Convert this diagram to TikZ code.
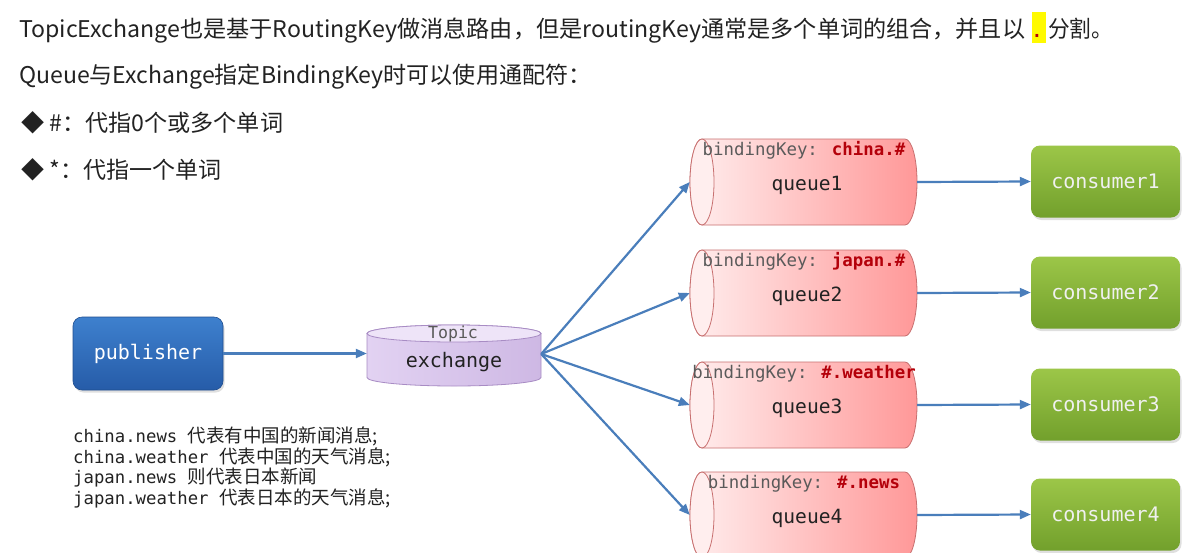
\documentclass[tikz,border=0pt]{standalone}
\usepackage{fontspec}
\usepackage{graphicx}
\usetikzlibrary{arrows.meta,shadows}
\newfontfamily\cjk{Noto Sans CJK SC}
\newfontfamily\monof{DejaVu Sans Mono}
\definecolor{arrowc}{RGB}{74,126,187}
\definecolor{textc}{RGB}{34,34,34}
\definecolor{keyred}{RGB}{180,0,10}
\definecolor{graytxt}{RGB}{90,90,90}
\definecolor{qL}{RGB}{255,238,238}
\definecolor{qR}{RGB}{255,152,152}
\definecolor{qB}{RGB}{200,112,112}
\definecolor{pubT}{RGB}{62,128,206}
\definecolor{pubB}{RGB}{38,92,168}
\definecolor{conT}{RGB}{156,198,72}
\definecolor{conB}{RGB}{114,160,44}
\definecolor{exT}{RGB}{238,228,248}
\definecolor{exL}{RGB}{226,210,242}
\definecolor{exR}{RGB}{206,184,228}
\definecolor{exB}{RGB}{168,140,196}
\definecolor{hlyellow}{RGB}{255,250,0}
\begin{document}
\begin{tikzpicture}[x=1pt,y=1pt,
  toptext/.style={inner sep=0pt, anchor=base west, text=textc, font=\cjk\fontsize{23}{27}\selectfont},
  arr/.style={draw=arrowc, line width=2.2pt, -{Triangle[length=11pt,width=9pt]}},
  boxshadow/.style={drop shadow={opacity=0.25, shadow xshift=1.5pt, shadow yshift=-2.5pt}},
  pubbox/.style={rounded corners=9pt, top color=pubT, bottom color=pubB, draw=pubB!85!black, line width=0.6pt,
    minimum width=150pt, minimum height=73pt, text=white, font=\monof\fontsize{20}{24}\selectfont, boxshadow},
  conbox/.style={rounded corners=9pt, top color=conT, bottom color=conB, draw=none,
    minimum width=149pt, minimum height=72pt, text=white!94!black, font=\monof\fontsize{20}{24}\selectfont, boxshadow},
  holder/.style={inner sep=0pt, draw=none},
  keytxt/.style={inner sep=0pt, anchor=base, font=\monof\fontsize{17.4}{20}\selectfont, text=graytxt},
  qtxt/.style={inner sep=0pt, anchor=base, font=\monof\fontsize{19.6}{23}\selectfont, text=textc},
  notetxt/.style={inner sep=0pt, anchor=base west, font=\monof\fontsize{17.3}{20}\selectfont, text=textc},
]
\useasboundingbox[fill=white] (0,0) rectangle (1201,-552);
\begin{scope}
\clip (0,0) rectangle (1201,-552);

% ---- top text ----
\node[toptext] (l1) at (19,-37) {\resizebox{1006pt}{\height}{TopicExchange也是基于RoutingKey做消息路由，但是routingKey通常是多个单词的组合，并且以}};
\fill[hlyellow] (1032,-12) rectangle (1046,-43);
\node[inner sep=0pt, anchor=base, text=keyred, font=\monof\bfseries\fontsize{17}{20}\selectfont] (dot) at (1037,-37) {.};
\node[toptext] (l1b) at (1048,-37) {\resizebox{65pt}{\height}{分割。}};
\node[toptext] (l2) at (19,-83) {\resizebox{572pt}{\height}{Queue与Exchange指定BindingKey时可以使用通配符：}};
\node[toptext] (l3) at (21,-131) {\resizebox{262pt}{\height}{◆ \#：代指0个或多个单词}};
\node[toptext] (l4) at (21,-178) {\resizebox{200pt}{\height}{◆ *：代指一个单词}};

% ---- publisher ----
\node[pubbox] (pub) at (148,-353.5) {publisher};

% ---- exchange cylinder ----
\path[left color=exL, right color=exR, draw=exB, line width=0.8pt]
  (367,-333.5) -- (367,-377.5) arc[start angle=180,end angle=360,x radius=87,y radius=8.5]
  -- (541,-333.5) arc[start angle=0,end angle=180,x radius=87,y radius=8.5] -- cycle;
\path[fill=exT, draw=exB, line width=0.8pt] (454,-333.5) ellipse[x radius=87, y radius=8.5];
\node[holder, minimum width=174pt, minimum height=60pt] (ex) at (454,-354) {};
\node[inner sep=0pt, anchor=base, font=\monof\fontsize{16.6}{20}\selectfont, text=graytxt] (topic) at (453,-338.5) {Topic};
\node[inner sep=0pt, anchor=base, font=\monof\fontsize{20}{24}\selectfont, text=textc] (exname) at (454,-367) {exchange};

\draw[arr] (pub.east) -- (pub.east -| ex.west);

% ---- queues and consumers ----
\foreach \n/\t/\key in {1/139/china.\#, 2/250/japan.\#, 3/362/\#.weather, 4/472/\#.news} {
  \pgfmathsetmacro\bb{\t+86}
  \pgfmathsetmacro\mm{\t+43}
  \pgfmathsetmacro\kb{\t+16}
  \pgfmathsetmacro\qb{\t+51}
  \pgfmathsetmacro\cm{\t+42.5}
  \path[left color=qL, right color=qR, draw=qB, line width=0.8pt]
    (702,-\t) -- (905,-\t) arc[start angle=90,end angle=-90,x radius=12,y radius=43]
    -- (702,-\bb) arc[start angle=270,end angle=90,x radius=12,y radius=43] -- cycle;
  \path[fill=qL, draw=qB, line width=0.8pt] (702,-\mm) ellipse[x radius=12, y radius=43];
  \node[holder, minimum width=227pt, minimum height=86pt] (q\n) at (803.5,-\mm) {};
  \node[keytxt] (k\n) at (804,-\kb) {bindingKey: \textcolor{keyred}{\bfseries\key}};
  \node[qtxt] (ql\n) at (807,-\qb) {queue\n};
  \node[conbox] (c\n) at (1105.5,-\cm) {consumer\n};
  \draw[arr] (ex.east) -- (q\n.west);
  \draw[arr] (q\n.east) -- (c\n.west);
}

% ---- notes ----
\node[notetxt] (n1) at (73,-442) {china.news {\cjk\fontsize{18.5}{20}\selectfont 代表有中国的新闻消息;}};
\node[notetxt] (n2) at (73,-463) {china.weather {\cjk\fontsize{18.5}{20}\selectfont 代表中国的天气消息;}};
\node[notetxt] (n3) at (73,-483.5) {japan.news {\cjk\fontsize{18.5}{20}\selectfont 则代表日本新闻}};
\node[notetxt] (n4) at (73,-504) {japan.weather {\cjk\fontsize{18.5}{20}\selectfont 代表日本的天气消息;}};
\end{scope}
\end{tikzpicture}
\end{document}
